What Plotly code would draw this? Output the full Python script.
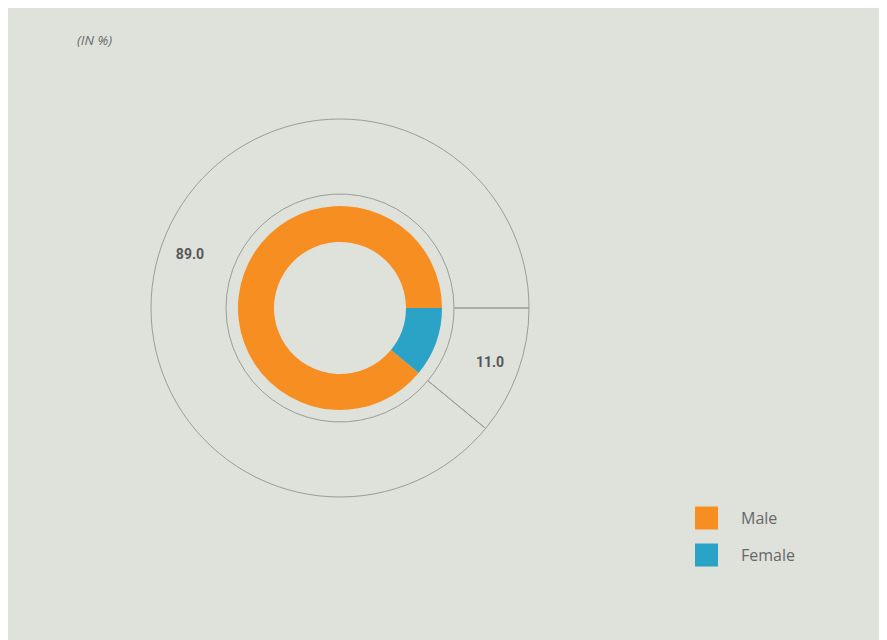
import plotly.graph_objects as go

labels = ["Female", "Male"]
values = [11.0, 89.0]
colors = ["#2aa3c7", "#f68e21"]
legend_labels = ["Male", "Female"]
legend_colors = ["#f68e21", "#2aa3c7"]
unit_label = "(IN %)"

OFF = 8  # page body margin
W, H = 887 - OFF, 640 - OFF
BG = "#dfe1db"

def px_x(x):
    return (x - OFF) / W

def px_y(y):
    return 1 - (y - OFF) / H

cx, cy = 340, 308
r_outer, r_mid = 189, 114
r_ring, r_hole = 102, 66
r_text_in = 130

def dom(r):
    return dict(x=[px_x(cx - r), px_x(cx + r)], y=[px_y(cy + r), px_y(cy - r)])

fig = go.Figure()

# Outer outlined ring
fig.add_trace(go.Pie(
    labels=labels, values=values, sort=False, direction="clockwise", rotation=90,
    hole=r_mid / r_outer, domain=dom(r_outer),
    marker=dict(colors=["rgba(0,0,0,0)"] * 2, line=dict(color="#9a9c98", width=1)),
    textinfo="none", showlegend=False, hoverinfo="label+value",
))

# Value labels (text-only ring, placed in the outer part of the ring)
fig.add_trace(go.Pie(
    labels=labels, values=values, sort=False, direction="clockwise", rotation=90,
    hole=r_text_in / r_outer, domain=dom(r_outer),
    marker=dict(colors=["rgba(0,0,0,0)"] * 2, line=dict(width=0)),
    texttemplate="%{value:.1f}", textposition="inside", insidetextorientation="horizontal",
    textfont=dict(family="Roboto", size=14, color="#55585a", weight="bold"),
    showlegend=False, hoverinfo="skip",
))

# Inner coloured donut
fig.add_trace(go.Pie(
    labels=labels, values=values, sort=False, direction="clockwise", rotation=90,
    hole=r_hole / r_ring, domain=dom(r_ring),
    marker=dict(colors=colors, line=dict(width=0)),
    textinfo="none", showlegend=False, hoverinfo="label+value",
))

shapes = []
annotations = [
    dict(text="<i>" + unit_label + "</i>", xref="paper", yref="paper",
         x=px_x(75), y=px_y(40), xanchor="left", yanchor="middle", showarrow=False,
         font=dict(family="Open Sans", size=13.5, color="#6b6d6c")),
]

# Legend with large square swatches
for i, (lab, col) in enumerate(zip(legend_labels, legend_colors)):
    yc = 518 + i * 37
    shapes.append(dict(type="rect", xref="paper", yref="paper",
                       x0=px_x(695), x1=px_x(718), y0=px_y(yc + 11.5), y1=px_y(yc - 11.5),
                       fillcolor=col, line=dict(width=0)))
    annotations.append(dict(text=lab, xref="paper", yref="paper",
                            x=px_x(739), y=px_y(yc), xanchor="left", yanchor="middle",
                            showarrow=False,
                            font=dict(family="Open Sans", size=16, color="#666867")))

fig.update_layout(
    width=W, height=H, margin=dict(l=0, r=0, t=0, b=0),
    paper_bgcolor=BG, plot_bgcolor=BG,
    shapes=shapes, annotations=annotations,
)

fig.write_html("out.html", post_script="document.body.style.overflow='hidden';")
